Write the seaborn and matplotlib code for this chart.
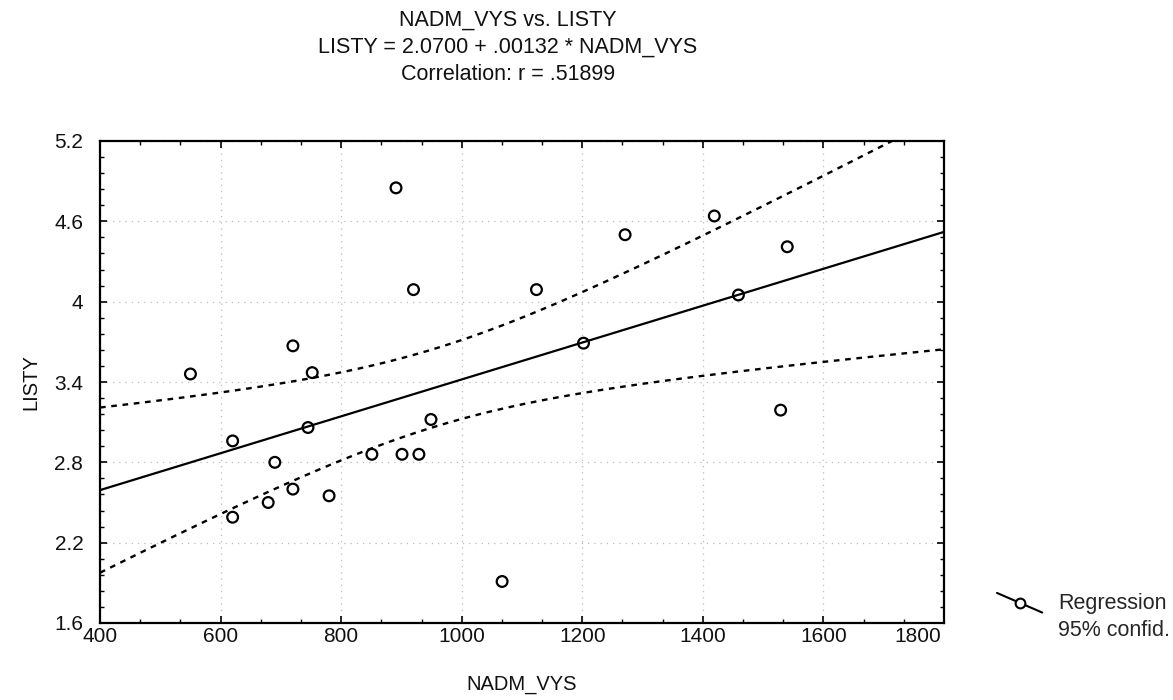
import numpy as np
import pandas as pd
import matplotlib
matplotlib.use("Agg")
import matplotlib.pyplot as plt
import seaborn as sns
from matplotlib.ticker import AutoMinorLocator, FixedLocator
from matplotlib.lines import Line2D
from matplotlib.legend_handler import HandlerBase
import matplotlib.transforms as mtransforms

# ---- data ----
nadm_vys = [550, 620, 620, 679, 690, 720, 720, 745, 752, 780, 851, 891,
            901, 920, 929, 949, 1067, 1124, 1202, 1271, 1419, 1459, 1529, 1540]
listy = [3.46, 2.96, 2.39, 2.50, 2.80, 3.67, 2.60, 3.06, 3.47, 2.55, 2.86, 4.85,
         2.86, 4.09, 2.86, 3.12, 1.91, 4.09, 3.69, 4.50, 4.64, 4.05, 3.19, 4.41]

title_lines = ["NADM_VYS vs. LISTY",
               "LISTY = 2.0700 + .00132 * NADM_VYS",
               "Correlation: r = .51899"]
x_label = "NADM_VYS"
y_label = "LISTY"
x_ticks = [400, 600, 800, 1000, 1200, 1400, 1600, 1800]
y_ticks = [1.6, 2.2, 2.8, 3.4, 4.0, 4.6, 5.2]
y_tick_labels = ["1.6", "2.2", "2.8", "3.4", "4", "4.6", "5.2"]
legend_labels = ["Regression", "95% confid."]
t_crit = 2.074  # t(0.975, df=22)

# ---- regression & confidence band ----
x = np.asarray(nadm_vys, float)
y = np.asarray(listy, float)
n = len(x)
slope, intercept = np.polyfit(x, y, 1)
resid = y - (intercept + slope * x)
s = np.sqrt(np.sum(resid ** 2) / (n - 2))
xm = x.mean()
sxx = np.sum((x - xm) ** 2)
xg = np.linspace(x_ticks[0], x_ticks[-1], 200)
yg = intercept + slope * xg
se = s * np.sqrt(1.0 / n + (xg - xm) ** 2 / sxx)
fit_df = pd.DataFrame({"x": xg, "fit": yg,
                       "lo": yg - t_crit * se, "hi": yg + t_crit * se})
pts = pd.DataFrame({x_label: x, y_label: y})

sns.set_theme(style="white")
plt.rcParams['font.family'] = ['Liberation Sans', 'DejaVu Sans']

fig = plt.figure(figsize=(11.73, 7.0), dpi=100)
ax = fig.add_axes([100 / 1173, 1 - 623 / 700, (944 - 100) / 1173, (623 - 141) / 700])

sns.lineplot(data=fit_df, x="x", y="fit", ax=ax, color="black", linewidth=1.6)
sns.lineplot(data=fit_df, x="x", y="lo", ax=ax, color="black", linewidth=1.7,
             linestyle=(0, (2.4, 2.4)))
sns.lineplot(data=fit_df, x="x", y="hi", ax=ax, color="black", linewidth=1.7,
             linestyle=(0, (2.4, 2.4)))
sns.scatterplot(data=pts, x=x_label, y=y_label, ax=ax, marker="o", s=60,
                facecolor="none", edgecolor="black", linewidth=1.6, zorder=5)

ax.set_xlim(x_ticks[0], x_ticks[-1])
ax.set_ylim(y_ticks[0], y_ticks[-1])
ax.xaxis.set_major_locator(FixedLocator(x_ticks))
ax.set_xticklabels([str(v) for v in x_ticks])
ax.yaxis.set_major_locator(FixedLocator(y_ticks))
ax.set_yticklabels(y_tick_labels)
ax.xaxis.set_minor_locator(AutoMinorLocator(3))
ax.yaxis.set_minor_locator(AutoMinorLocator(5))
ax.tick_params(which="both", direction="in", top=True, right=True,
               bottom=True, left=True, color="black")
ax.tick_params(which="major", length=5, width=1.2, labelsize=15, pad=3,
               labelcolor="#111111")
ax.tick_params(axis="y", which="major", pad=12)
ax.tick_params(which="minor", length=3, width=1.0)
# last x tick label sits left of its tick in the reference
lbls = ax.get_xticklabels()
lbls[-1].set_transform(lbls[-1].get_transform() +
                       mtransforms.ScaledTranslation(-26 / 100, 0, fig.dpi_scale_trans))
for sp in ax.spines.values():
    sp.set_visible(True)
    sp.set_color("black")
    sp.set_linewidth(1.6)
ax.grid(True, which="major", linestyle=(0, (1, 4)), color="#bbbbbb", linewidth=0.9)

ax.set_xlabel(x_label, fontsize=14.5, labelpad=21, color="#111111")
ax.set_ylabel(y_label, fontsize=14.5, labelpad=10, color="#111111")

for i, line in enumerate(title_lines):
    fig.text(508 / 1173, 1 - (20 + 27.5 * i) / 700, line, ha="center", va="center",
             fontsize=15.5, color="#111111")


class SlantHandler(HandlerBase):
    def create_artists(self, legend, orig_handle, xdescent, ydescent,
                       width, height, fontsize, trans):
        x0, x1 = -xdescent, width - xdescent
        y0, y1 = height * 1.05 - ydescent, -0.25 * height - ydescent
        ln = Line2D([x0, x1], [y0, y1], color="black", linewidth=1.5,
                    transform=trans)
        xm_ = x0 + 0.5 * (x1 - x0)
        ym_ = y0 + 0.5 * (y1 - y0)
        mk = Line2D([xm_], [ym_], marker="o", markersize=7,
                    markerfacecolor="white", markeredgecolor="black",
                    markeredgewidth=1.5, linestyle="none", transform=trans)
        return [ln, mk]


handles = [Line2D([0], [0], color="black"), Line2D([0], [0], color="none")]
fig.legend(handles, legend_labels, loc="center left",
           bbox_to_anchor=(997 / 1173, 1 - 617 / 700), frameon=False,
           fontsize=15.5, handlelength=2.1, handletextpad=0.75, labelspacing=0.3,
           borderaxespad=0, borderpad=0,
           handler_map={handles[0]: SlantHandler()})

fig.savefig("out.png", dpi=100)
